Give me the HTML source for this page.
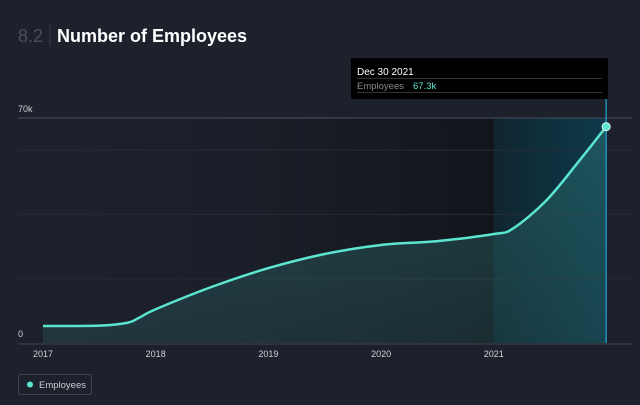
<!DOCTYPE html>
<html><head><meta charset="utf-8">
<style>
body{margin:0;background:#1c212c;font-family:"Liberation Sans",sans-serif;}
#wrap{position:relative;width:640px;height:405px;overflow:hidden;background:#1c212c;}
</style></head>
<body>
<div id="wrap">
<svg id="chart" width="640" height="405">
<defs>
<linearGradient id="bg" x1="0" x2="1" y1="0" y2="0">
<stop offset="0" stop-color="#1c212c" stop-opacity="0"/>
<stop offset="1" stop-color="#101318" stop-opacity="0.9"/>
</linearGradient>
<linearGradient id="hl" x1="0" x2="1" y1="0" y2="0">
<stop offset="0" stop-color="#0f2530"/>
<stop offset="1" stop-color="#0e3a4a"/>
</linearGradient>
<linearGradient id="area" x1="0" x2="0" y1="0" y2="1">
<stop offset="0" stop-color="#2a6e70" stop-opacity="0.55"/>
<stop offset="1" stop-color="#2a5a5c" stop-opacity="0.35"/>
</linearGradient>
</defs>
<text x="18" y="42" font-size="18" fill="#4a4f5a">8.2</text>
<line x1="50" y1="24" x2="50" y2="46" stroke="#3a3f4a"/>
<text x="57" y="42" font-size="18" font-weight="bold" fill="#ffffff">Number of Employees</text>
<g id="plot"></g>
</svg>
</div>
<script>
const years=[2017,2018,2019,2020,2021];
const yTicks=[0,70000];
const gridVals=[20000,40000,60000];
const dates=[2017.0,2017.5,2017.75,2017.85,2018.0,2018.5,2019.0,2019.5,2020.0,2020.5,2021.0,2021.17,2021.47,2021.765,2021.997];
const employees=[5300,5400,6300,7800,10500,17500,23300,27700,30500,31700,33900,35600,44500,57000,67300];
const x=v=>43+(v-2017)*112.7;
const y=v=>343-v/70000*225;
const ns="http://www.w3.org/2000/svg";
const g=document.getElementById('plot');
function mk(t,a){const e=document.createElementNS(ns,t);for(const k in a)e.setAttribute(k,a[k]);g.appendChild(e);return e;}
let e;
e=mk('rect',{x:18,y:y(70000),width:x(2021)-18,height:y(0)-y(70000),fill:'url(#bg)'});


e=mk('rect',{x:x(2021),y:y(70000),width:x(dates[dates.length-1])-x(2021),height:y(0)-y(70000),fill:'url(#hl)'});


gridVals.forEach(v=>{
e=mk('line',{x1:18,x2:632,y1:y(v),y2:y(v),stroke:'#262c37'});


});
e=mk('line',{x1:18,x2:632,y1:y(70000),y2:y(70000),stroke:'#4a505c'});


yTicks.forEach(v=>{
e=mk('text',{x:18,y:y(v)-6,'font-size':9,fill:'#d0d3d8'});e.textContent=v?Math.round(v/1000)+'k':'0';


});
function path(pts){let d='M'+pts[0][0]+','+pts[0][1];for(let i=0;i<pts.length-1;i++){const p0=pts[i-1]||pts[i],p1=pts[i],p2=pts[i+1],p3=pts[i+2]||p2;
d+=' C'+(p1[0]+(p2[0]-p0[0])/6)+','+(p1[1]+(p2[1]-p0[1])/6)+' '+(p2[0]-(p3[0]-p1[0])/6)+','+(p2[1]-(p3[1]-p1[1])/6)+' '+p2[0]+','+p2[1];}return d;}
const pts=dates.map((d,i)=>[x(d),y(employees[i])]);
const lp=path(pts);
e=mk('path',{d:lp+' L'+pts[pts.length-1][0]+','+y(0)+' L'+pts[0][0]+','+y(0)+'Z',fill:'url(#area)'});


const lx=pts[pts.length-1][0];
e=mk('line',{x1:lx,x2:lx,y1:98,y2:y(0),stroke:'#1e8fb8','stroke-width':1.5});


e=mk('path',{d:lp,fill:'none',stroke:'#5ce5cf','stroke-width':2.5});


e=mk('line',{x1:18,x2:632,y1:y(0)+1,y2:y(0)+1,stroke:'#3f4550'});


years.forEach(v=>{
e=mk('text',{x:x(v),y:357,'font-size':9,fill:'#d0d3d8','text-anchor':'middle'});e.textContent=v;


});
e=mk('circle',{cx:lx,cy:pts[pts.length-1][1],r:4,fill:'#5ce5cf',stroke:'#d8f8f2','stroke-width':1});


e=mk('rect',{x:351,y:58,width:257,height:41,fill:'#000'});


e=mk('text',{x:357,y:75,'font-size':10,fill:'#fff'});e.textContent='Dec 30 2021';


e=mk('line',{x1:357,x2:602,y1:78.5,y2:78.5,stroke:'#333'});


e=mk('text',{x:357,y:89,'font-size':9.5,fill:'#888'});e.textContent='Employees';


e=mk('text',{x:413,y:89,'font-size':9.5,fill:'#5ce5cf'});e.textContent=(employees[employees.length-1]/1000).toFixed(1)+'k';


e=mk('line',{x1:357,x2:602,y1:92.5,y2:92.5,stroke:'#333'});


e=mk('rect',{x:18.5,y:374.5,width:73,height:20,rx:2,fill:'none',stroke:'#3f4550'});


e=mk('circle',{cx:30,cy:384.5,r:3,fill:'#5ce5cf'});


e=mk('text',{x:39,y:388,'font-size':9.5,fill:'#c8ccd2'});e.textContent='Employees';


</script>
</body></html>
